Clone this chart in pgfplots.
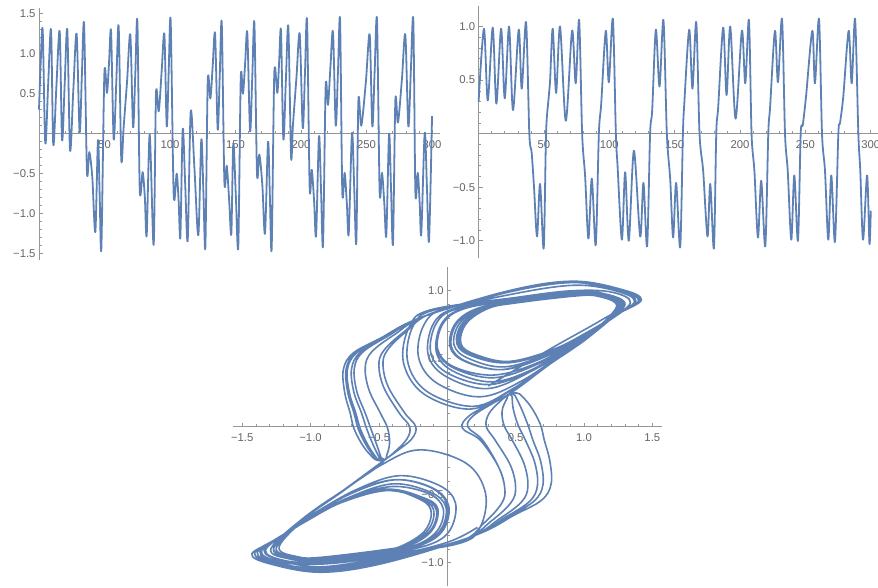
\documentclass[border=0pt]{standalone}
\usepackage{pgfplots}
\pgfplotsset{compat=1.18}
\usepackage{fontspec}
\setmainfont{Liberation Sans}
\definecolor{mblue}{RGB}{94,129,181}
\definecolor{axgray}{RGB}{150,150,150}
\definecolor{lblgray}{RGB}{100,100,100}
\pgfplotsset{
  mma/.style={
    scale only axis,
    axis x line*=middle, axis y line*=middle,
    axis line style={axgray, line width=0.9pt},
    every tick/.style={axgray, line width=0.6pt},
    major tick length=4pt, minor tick length=2.5pt,
    tick align=inside,
    minor x tick num=4, minor y tick num=4,
    ticklabel style={font=\fontsize{11.3}{13}\selectfont, text=lblgray},
    xticklabel style={yshift=-3.5pt},
    clip=false,
  },
  curve/.style={mblue, line width=1.8pt, smooth, tension=0.5, no markers, line join=round},
}
\begin{document}
\begin{tikzpicture}
\useasboundingbox (0,0) rectangle (878pt,587pt);
% ---------- x(t) ----------
\begin{axis}[mma, at={(39pt,326.9pt)}, anchor=south west, width=400.9pt, height=252pt,
  xmin=0, xmax=306, ymin=-1.58, ymax=1.57,
  xtick={0,50,100,150,200,250,300}, xticklabels={,50,100,150,200,250,300},
  ytick={-1.5,-1,-0.5,0,0.5,1,1.5}, yticklabels={−1.5,−1.0,−0.5,,0.5,1.0,1.5}]
\addplot[curve] table {
0 0.30
1.2 0.85
2.8 1.30
4.8 -0.12
7.0 0.62
9.2 1.30
10.9 -0.14
13.3 0.60
15.8 1.28
17.6 -0.08
19.6 0.62
21.6 1.30
23.7 -0.21
26.2 0.55
28.7 1.25
31.0 0.02
32.7 0.72
34.4 1.37
36.6 -0.475
38.4 -0.23
40.7 -0.55
43.0 -1.23
45.0 -0.08
46.3 -0.76
47.6 -1.43
49.9 0.75
51.9 0.51
53.5 0.90
55.0 1.28
57.0 -0.07
59.0 0.65
60.8 1.34
62.8 -0.32
64.6 0.08
67.2 0.65
69.7 1.24
71.8 0.08
73.5 0.75
75.1 1.40
76.9 -0.70
79.1 -0.48
80.8 -0.80
82.2 -1.27
84.5 -0.01
87.5 -1.39
89.3 0.50
91.4 0.28
93.7 0.80
95.7 1.24
97.5 0.09
99.0 0.78
100.5 1.41
102.8 -0.76
105.1 -0.50
106.6 -0.85
107.9 -1.29
109.7 0.06
111.6 -0.64
113.5 -1.33
115.8 0.28
118.7 -0.45
121.6 -1.27
123.9 -0.07
125.5 -0.74
127.0 -1.41
128.8 0.66
130.8 0.44
132.6 0.85
134.4 1.25
136.4 0.05
138.0 0.75
139.5 1.38
141.5 -0.60
143.3 -0.40
145.2 -0.85
146.8 -1.25
148.3 -0.12
150.2 -0.76
152.1 -1.41
154.0 0.70
155.7 0.50
157.4 0.90
159.0 1.26
161.1 0.03
162.8 0.72
164.4 1.38
166.4 -0.50
168.2 -0.26
170.5 -0.65
172.5 -1.25
174.8 -0.10
176.2 -0.77
177.6 -1.43
179.6 0.76
181.9 0.51
183.3 0.90
184.7 1.29
186.5 -0.07
188.4 0.65
190.3 1.34
192.4 -0.29
193.8 0.10
196.5 0.70
199.0 1.25
201.3 0.07
203.0 0.75
204.6 1.41
206.6 -0.68
208.2 -0.45
210.0 -0.85
211.5 -1.27
213.7 -0.03
215.3 -0.72
216.8 -1.39
218.8 0.59
220.6 0.36
222.5 0.85
224.4 1.27
226.5 0.10
228.2 0.78
229.8 1.42
231.5 -0.73
233.3 -0.49
235.0 -0.88
236.4 -1.25
238.9 0.01
240.6 -0.68
242.2 -1.36
243.8 0.42
246.0 0.10
249.5 0.65
252.4 1.24
254.4 0.09
256.2 0.78
258.0 1.42
260.0 -0.73
261.8 -0.49
263.6 -0.88
265.1 -1.27
267.2 0.00
268.7 -0.69
270.2 -1.37
272.0 0.42
274.0 0.14
277.0 0.68
279.6 1.24
281.9 0.09
283.8 0.78
285.7 1.42
287.3 -0.74
289.1 -0.49
290.6 -0.88
291.8 -1.25
294.4 0.01
296.1 -0.67
297.7 -1.34
300.0 0.22
};
\end{axis}
% ---------- y(t) ----------
\begin{axis}[mma, at={(478.6pt,328.6pt)}, anchor=south west, width=400pt, height=252.2pt,
  xmin=0, xmax=306, ymin=-1.165, ymax=1.19,
  xtick={0,50,100,150,200,250,300}, xticklabels={,50,100,150,200,250,300},
  ytick={-1,-0.5,0,0.5,1}, yticklabels={−1.0,−0.5,,0.5,1.0}]
\addplot[curve] table {
0 0.30
4.1 0.98
7.0 0.31
10.8 0.99
13.6 0.28
17.2 0.98
20.0 0.33
23.3 1.00
26.3 0.22
30.7 0.97
33.0 0.42
36.3 1.04
38.8 0.0
40.6 -0.18
42.4 -0.50
44.7 -0.96
47.0 -0.47
49.8 -1.07
51.6 0.0
53.4 0.31
54.7 0.50
56.7 0.98
59.3 0.38
62.3 1.00
66.7 0.12
71.5 0.96
74.3 0.47
76.9 1.06
79.2 0.0
81.5 -0.40
84.0 -0.98
86.6 -0.42
89.6 -1.04
92.0 0.0
93.8 0.28
97.3 0.96
99.6 0.48
102.7 1.07
105.0 0.0
106.3 -0.30
109.6 -0.99
112.1 -0.36
114.9 -1.00
118.8 -0.16
123.6 -0.96
126.1 -0.46
128.9 -1.05
131.2 0.0
132.8 0.22
135.6 0.97
138.4 0.44
141.4 1.06
144.0 0.0
146.6 -0.43
148.8 -0.97
151.1 -0.46
154.2 -1.06
156.3 0.0
157.3 0.27
161.1 0.97
163.6 0.42
166.5 1.04
169.0 0.0
171.8 -0.35
175.1 -0.96
177.2 -0.47
180.0 -1.07
181.8 0.0
183.3 0.25
187.1 0.99
189.7 0.36
192.5 1.00
196.6 0.14
201.4 0.96
204.0 0.47
206.8 1.06
208.8 0.0
211.0 -0.35
213.7 -0.97
216.2 -0.44
219.3 -1.05
221.6 0.0
223.0 0.25
226.7 0.96
229.0 0.48
232.1 1.07
234.4 0.0
236.5 -0.35
239.2 -0.99
241.5 -0.39
244.3 -1.00
246.4 0.0
248.0 0.08
250.5 0.35
255.3 0.96
257.3 0.47
260.4 1.07
262.7 0.0
265.0 -0.35
267.5 -0.99
269.8 -0.39
272.6 -1.01
275.2 0.0
276.5 0.10
279.0 0.35
283.1 0.96
285.4 0.47
288.0 1.07
290.5 0.0
292.0 -0.35
294.1 -0.99
297.2 -0.39
299.0 -1.03
300.0 -0.72
};
\end{axis}
% ---------- phase portrait ----------
\begin{axis}[mma, at={(233.3pt,0.9pt)}, anchor=south west, width=428.6pt, height=319.3pt,
  xmin=-1.565, xmax=1.57, ymin=-1.172, ymax=1.176,
  xtick={-1.5,-1,-0.5,0,0.5,1,1.5}, xticklabels={−1.5,−1.0,−0.5,,0.5,1.0,1.5},
  ytick={-1,-0.5,0,0.5,1}, yticklabels={−1.0,−0.5,,0.5,1.0}]
\addplot[curve, line width=1.6pt, tension=0.6] table {
0.30 0.30
0.75 0.57
1.12 0.78
1.30 0.90
1.16 0.975
0.92 0.98
0.50 0.93
0.08 0.87
-0.08 0.76
-0.12 0.54
0.01 0.39
0.31 0.31
0.62 0.42
0.95 0.62
1.15 0.76
1.30 0.90
1.16 0.975
0.92 0.99
0.50 0.94
0.06 0.87
-0.10 0.76
-0.14 0.53
-0.01 0.37
0.29 0.28
0.60 0.40
0.95 0.61
1.15 0.755
1.28 0.896
1.14 0.97
0.92 0.98
0.50 0.93
0.12 0.87
-0.04 0.76
-0.08 0.55
0.04 0.41
0.33 0.33
0.64 0.43
0.96 0.625
1.15 0.76
1.30 0.90
1.16 0.975
0.92 1.00
0.50 0.95
-0.01 0.87
-0.17 0.75
-0.21 0.51
-0.075 0.32
0.24 0.22
0.55 0.34
0.90 0.58
1.08 0.71
1.25 0.888
1.11 0.96
0.92 0.97
0.50 0.92
0.22 0.87
0.06 0.76
0.02 0.59
0.13 0.48
0.40 0.42
0.72 0.52
1.00 0.67
1.20 0.80
1.37 0.92
1.23 1.00
0.92 1.04
0.45 0.97
-0.10 0.84
-0.30 0.70
-0.44 0.56
-0.47 0.45
-0.43 0.29
-0.31 0.10
-0.23 0.00
-0.26 -0.09
-0.37 -0.18
-0.48 -0.26
-0.75 -0.46
-1.00 -0.64
-1.23 -0.882
-1.09 -0.957
-0.92 -0.96
-0.50 -0.91
-0.28 -0.87
-0.12 -0.76
-0.08 -0.61
-0.19 -0.52
-0.45 -0.47
-0.78 -0.56
-1.05 -0.70
-1.25 -0.83
-1.43 -0.936
-1.29 -1.01
-0.92 -1.07
-0.45 -1.00
0.20 -0.80
0.49 -0.65
0.69 -0.54
0.76 -0.42
0.75 -0.25
0.71 -0.10
0.68 0.02
0.61 0.15
0.53 0.24
0.48 0.27
0.75 0.46
1.05 0.67
1.28 0.896
1.14 0.97
0.92 0.98
0.50 0.93
0.13 0.87
-0.03 0.76
-0.07 0.57
0.05 0.44
0.34 0.38
0.66 0.47
0.97 0.64
1.17 0.77
1.34 0.912
1.20 0.99
0.92 1.00
0.50 0.95
-0.12 0.86
-0.28 0.73
-0.32 0.47
-0.17 0.24
0.17 0.13
0.47 0.27
0.80 0.50
1.08 0.70
1.24 0.885
1.10 0.96
0.92 0.96
0.50 0.91
0.28 0.87
0.12 0.76
0.08 0.61
0.19 0.52
0.45 0.47
0.78 0.56
1.05 0.70
1.25 0.83
1.40 0.928
1.26 1.005
0.92 1.06
0.45 0.99
-0.179 0.808
-0.451 0.660
-0.638 0.544
-0.700 0.426
-0.684 0.258
-0.627 0.10
-0.589 -0.016
-0.540 -0.138
-0.497 -0.228
-0.48 -0.268
-0.75 -0.46
-1.03 -0.66
-1.27 -0.893
-1.13 -0.968
-0.92 -0.98
-0.50 -0.93
-0.21 -0.87
-0.05 -0.76
-0.01 -0.59
-0.126 -0.48
-0.40 -0.42
-0.72 -0.52
-1.00 -0.67
-1.20 -0.80
-1.39 -0.925
-1.25 -1.00
-0.92 -1.04
-0.45 -0.97
0.110 -0.836
0.320 -0.695
0.466 -0.558
0.500 -0.447
0.463 -0.286
0.351 -0.10
0.285 0.002
0.305 0.096
0.386 0.186
0.48 0.261
0.75 0.46
1.00 0.64
1.24 0.885
1.10 0.96
0.92 0.96
0.50 0.91
0.29 0.87
0.13 0.76
0.09 0.61
0.20 0.53
0.45 0.48
0.78 0.57
1.05 0.71
1.25 0.83
1.41 0.93
1.27 1.005
0.92 1.07
0.45 1.00
-0.20 0.80
-0.49 0.65
-0.69 0.54
-0.76 0.42
-0.75 0.25
-0.71 0.10
-0.68 -0.02
-0.61 -0.15
-0.53 -0.24
-0.48 -0.27
-0.75 -0.46
-1.05 -0.67
-1.29 -0.898
-1.15 -0.973
-0.92 -0.99
-0.50 -0.94
-0.14 -0.87
0.02 -0.76
0.06 -0.56
-0.062 -0.43
-0.35 -0.36
-0.66 -0.46
-0.97 -0.635
-1.15 -0.76
-1.33 -0.909
-1.19 -0.984
-0.92 -1.00
-0.50 -0.95
0.08 -0.86
0.24 -0.74
0.28 -0.49
0.14 -0.27
-0.20 -0.17
-0.48 -0.28
-0.80 -0.50
-1.08 -0.70
-1.27 -0.893
-1.13 -0.968
-0.92 -0.96
-0.50 -0.91
-0.27 -0.87
-0.11 -0.76
-0.07 -0.60
-0.18 -0.52
-0.44 -0.46
-0.77 -0.555
-1.04 -0.70
-1.24 -0.82
-1.41 -0.931
-1.27 -1.006
-0.92 -1.05
-0.45 -0.98
0.166 -0.814
0.424 -0.667
0.604 -0.547
0.660 -0.430
0.640 -0.264
0.572 -0.10
0.518 0.013
0.483 0.129
0.475 0.219
0.48 0.266
0.75 0.46
1.00 0.64
1.25 0.888
1.11 0.96
0.92 0.97
0.50 0.92
0.25 0.87
0.09 0.76
0.05 0.60
0.16 0.50
0.42 0.44
0.75 0.54
1.02 0.68
1.22 0.81
1.38 0.923
1.24 1.00
0.92 1.06
0.45 0.99
-0.145 0.822
-0.385 0.678
-0.552 0.551
-0.600 0.437
-0.573 0.272
-0.489 0.10
-0.437 -0.009
-0.422 -0.117
-0.442 -0.207
-0.48 -0.264
-0.75 -0.46
-1.00 -0.64
-1.25 -0.888
-1.11 -0.963
-0.92 -0.97
-0.50 -0.92
-0.32 -0.87
-0.16 -0.76
-0.12 -0.61
-0.23 -0.52
-0.47 -0.46
-0.80 -0.56
-1.06 -0.71
-1.26 -0.83
-1.41 -0.931
-1.27 -1.006
-0.92 -1.06
-0.45 -0.99
0.179 -0.808
0.451 -0.660
0.638 -0.544
0.700 -0.426
0.684 -0.258
0.627 -0.10
0.589 0.016
0.540 0.138
0.497 0.228
0.48 0.268
0.75 0.46
1.02 0.65
1.26 0.89
1.12 0.965
0.92 0.97
0.50 0.92
0.23 0.87
0.07 0.76
0.03 0.59
0.14 0.48
0.41 0.42
0.73 0.52
1.00 0.67
1.20 0.80
1.38 0.923
1.24 1.00
0.92 1.04
0.45 0.97
-0.110 0.836
-0.320 0.695
-0.466 0.558
-0.500 0.447
-0.463 0.286
-0.351 0.10
-0.275 0.00
-0.295 -0.09
-0.386 -0.186
-0.48 -0.261
-0.75 -0.46
-1.00 -0.64
-1.25 -0.888
-1.11 -0.963
-0.92 -0.96
-0.50 -0.91
-0.30 -0.87
-0.14 -0.76
-0.10 -0.61
-0.21 -0.52
-0.46 -0.47
-0.79 -0.56
-1.05 -0.70
-1.25 -0.83
-1.43 -0.936
-1.29 -1.01
-0.92 -1.07
-0.45 -1.00
0.20 -0.80
0.49 -0.65
0.69 -0.54
0.76 -0.42
0.75 -0.25
0.71 -0.10
0.68 0.02
0.61 0.15
0.53 0.24
0.48 0.27
0.75 0.46
1.05 0.67
1.29 0.898
1.15 0.973
0.92 0.99
0.50 0.94
0.13 0.87
-0.03 0.76
-0.07 0.56
0.05 0.43
0.34 0.36
0.66 0.46
0.97 0.635
1.15 0.76
1.34 0.912
1.20 0.99
0.92 1.00
0.50 0.95
-0.09 0.86
-0.25 0.74
-0.29 0.48
-0.15 0.26
0.19 0.15
0.48 0.28
0.80 0.50
1.08 0.70
1.25 0.888
1.11 0.96
0.92 0.96
0.50 0.91
0.27 0.87
0.11 0.76
0.07 0.61
0.18 0.52
0.44 0.47
0.77 0.56
1.04 0.70
1.25 0.83
1.41 0.93
1.27 1.005
0.92 1.06
0.45 0.99
-0.172 0.811
-0.438 0.664
-0.621 0.546
-0.680 0.428
-0.662 0.261
-0.600 0.10
-0.559 -0.014
-0.516 -0.133
-0.486 -0.223
-0.48 -0.267
-0.75 -0.46
-1.03 -0.66
-1.27 -0.893
-1.13 -0.968
-0.92 -0.97
-0.50 -0.92
-0.23 -0.87
-0.07 -0.76
-0.03 -0.60
-0.14 -0.49
-0.41 -0.44
-0.73 -0.53
-1.00 -0.675
-1.20 -0.80
-1.39 -0.925
-1.25 -1.00
-0.92 -1.05
-0.45 -0.98
0.141 -0.823
0.379 -0.679
0.544 -0.552
0.590 -0.438
0.562 -0.273
0.476 -0.10
0.416 0.008
0.401 0.115
0.436 0.205
0.48 0.264
0.75 0.46
1.02 0.65
1.27 0.893
1.13 0.968
0.92 0.96
0.50 0.91
0.30 0.87
0.14 0.76
0.10 0.61
0.21 0.53
0.46 0.48
0.79 0.57
1.05 0.71
1.25 0.83
1.42 0.933
1.28 1.008
0.92 1.07
0.45 1.00
-0.190 0.804
-0.470 0.655
-0.664 0.542
-0.730 0.423
-0.717 0.254
-0.669 0.10
-0.635 -0.018
-0.575 -0.144
-0.514 -0.234
-0.48 -0.269
-0.75 -0.46
-1.02 -0.65
-1.25 -0.888
-1.11 -0.963
-0.92 -0.99
-0.50 -0.94
-0.19 -0.87
-0.03 -0.76
0.01 -0.58
-0.108 -0.45
-0.38 -0.39
-0.70 -0.49
-0.99 -0.655
-1.18 -0.78
-1.36 -0.917
-1.22 -0.992
-0.92 -1.00
-0.50 -0.95
0.083 -0.847
0.268 -0.709
0.398 -0.563
0.421 -0.455
0.376 -0.297
0.242 -0.10
0.11 -0.01
0.16 0.08
0.32 0.17
0.48 0.258
0.75 0.46
1.00 0.64
1.24 0.885
1.10 0.96
0.92 0.96
0.50 0.91
0.29 0.87
0.13 0.76
0.09 0.61
0.20 0.52
0.45 0.47
0.78 0.56
1.05 0.70
1.25 0.83
1.42 0.933
1.28 1.008
0.92 1.07
0.45 1.00
-0.190 0.804
-0.470 0.655
-0.664 0.542
-0.730 0.423
-0.717 0.254
-0.669 0.10
-0.635 -0.018
-0.575 -0.144
-0.514 -0.234
-0.48 -0.269
-0.75 -0.46
-1.03 -0.66
-1.27 -0.893
-1.13 -0.968
-0.92 -0.99
-0.50 -0.94
-0.20 -0.87
-0.04 -0.76
0.00 -0.58
-0.115 -0.45
-0.39 -0.39
-0.71 -0.49
-0.99 -0.655
-1.18 -0.78
-1.37 -0.92
-1.23 -0.995
-0.92 -1.01
-0.50 -0.96
0.083 -0.847
0.268 -0.709
0.398 -0.563
0.421 -0.455
0.376 -0.297
0.26 -0.10
0.15 0.00
0.19 0.08
0.33 0.17
0.48 0.258
0.75 0.46
1.00 0.64
1.24 0.885
1.10 0.96
0.92 0.96
0.50 0.91
0.29 0.87
0.13 0.76
0.09 0.61
0.20 0.52
0.45 0.47
0.78 0.56
1.05 0.70
1.25 0.83
1.42 0.933
1.28 1.008
0.92 1.07
0.45 1.00
-0.193 0.803
-0.477 0.653
-0.673 0.541
-0.740 0.422
-0.728 0.253
-0.682 0.10
-0.650 -0.019
-0.587 -0.146
-0.519 -0.236
-0.48 -0.269
-0.75 -0.46
-1.02 -0.65
-1.25 -0.888
-1.11 -0.963
-0.92 -0.99
-0.50 -0.94
-0.19 -0.87
-0.03 -0.76
0.01 -0.58
-0.108 -0.45
-0.38 -0.39
-0.70 -0.49
-0.99 -0.655
-1.18 -0.78
-1.34 -0.912
-1.20 -0.987
-0.92 -1.03
-0.45 -0.96
0.00 -0.85
0.22 -0.74
};
\end{axis}
\end{tikzpicture}
\end{document}
